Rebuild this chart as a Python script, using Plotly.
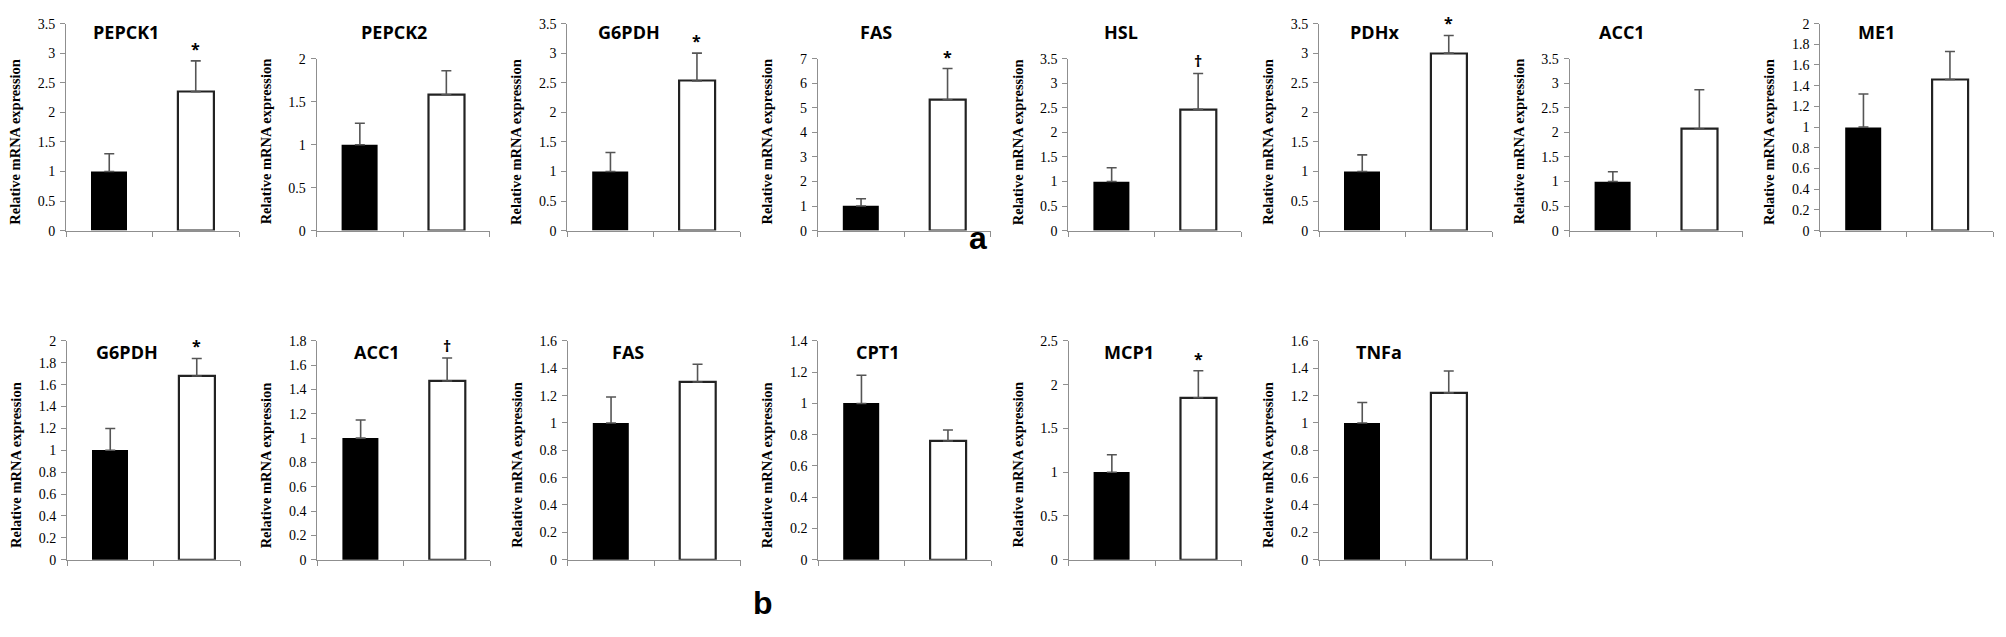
import plotly.graph_objects as go

# ---------------- data ----------------
genes_a = ["PEPCK1", "PEPCK2", "G6PDH", "FAS", "HSL", "PDHx", "ACC1", "ME1"]
ctrl_a = [1.0, 1.0, 1.0, 1.0, 1.0, 1.0, 1.0, 1.0]
ctrl_err_a = [0.30, 0.25, 0.32, 0.30, 0.28, 0.28, 0.20, 0.32]
treat_a = [2.35, 1.58, 2.53, 5.33, 2.47, 3.00, 2.07, 1.46]
treat_err_a = [0.52, 0.28, 0.47, 1.27, 0.73, 0.30, 0.80, 0.27]
sig_a = ["*", "", "*", "*", "†", "*", "", ""]
ymax_a = [3.5, 2.0, 3.5, 7.0, 3.5, 3.5, 3.5, 2.0]
dtick_a = [0.5, 0.5, 0.5, 1.0, 0.5, 0.5, 0.5, 0.2]

genes_b = ["G6PDH", "ACC1", "FAS", "CPT1", "MCP1", "TNFa"]
ctrl_b = [1.0, 1.0, 1.0, 1.0, 1.0, 1.0]
ctrl_err_b = [0.20, 0.15, 0.19, 0.18, 0.20, 0.15]
treat_b = [1.68, 1.47, 1.30, 0.76, 1.85, 1.22]
treat_err_b = [0.16, 0.19, 0.13, 0.07, 0.31, 0.16]
sig_b = ["*", "†", "", "", "*", ""]
ymax_b = [2.0, 1.8, 1.6, 1.4, 2.5, 1.6]
dtick_b = [0.2, 0.2, 0.2, 0.2, 0.5, 0.2]

y_title = "Relative mRNA expression"
panel_labels = ["a", "b"]

# ---------------- layout geometry (pixels) ----------------
W, H = 2006, 637
PW = 173  # plot-area width
ax_x_a = [66 + i * 250.6 for i in range(8)]
top_a = [17, 53, 17, 53, 53, 17, 53, 17]
bottom_a = 229
title_off_a = [60, 77, 62, 58, 53, 55, 52, 56]
ax_x_b = [67 + i * 250.4 for i in range(6)]
top_b = 342
bottom_b = 566
title_off_b = [60, 60, 60, 60, 60, 60]

AXIS_GRAY = "#8f8f8f"
ERR_GRAY = "#555555"

fig = go.Figure()
annotations = []

panels = []
for i in range(8):
    panels.append(dict(gene=genes_a[i], c=ctrl_a[i], ce=ctrl_err_a[i], t=treat_a[i],
                       te=treat_err_a[i], sig=sig_a[i], ymax=ymax_a[i], dt=dtick_a[i],
                       x0=ax_x_a[i], top=top_a[i], bot=bottom_a, toff=title_off_a[i],
                       title_y=26, ytitle_y=138))
for i in range(6):
    panels.append(dict(gene=genes_b[i], c=ctrl_b[i], ce=ctrl_err_b[i], t=treat_b[i],
                       te=treat_err_b[i], sig=sig_b[i], ymax=ymax_b[i], dt=dtick_b[i],
                       x0=ax_x_b[i], top=top_b, bot=bottom_b, toff=title_off_b[i],
                       title_y=353, ytitle_y=469))

layout_axes = {}
for k, p in enumerate(panels):
    n = k + 1
    xs = "" if n == 1 else str(n)
    fig.add_trace(go.Bar(
        x=[0, 1], y=[p["c"], p["t"]], width=0.42,
        marker=dict(color=["#000000", "#ffffff"],
                    line=dict(color=["#000000", "#222222"], width=[0, 2.2])),
        error_y=dict(type="data", array=[p["ce"], p["te"]], arrayminus=[0, 0],
                     symmetric=False, color=ERR_GRAY, thickness=1.6, width=5),
        xaxis="x" + xs, yaxis="y" + xs, showlegend=False, hoverinfo="skip",
    ))
    dx = [p["x0"] / W, (p["x0"] + PW) / W]
    dy = [1 - p["bot"] / H, 1 - p["top"] / H]
    layout_axes["xaxis" + xs] = dict(
        domain=dx, anchor="y" + xs, range=[-0.5, 1.5], showline=True,
        linecolor=AXIS_GRAY, linewidth=1, tickmode="array",
        tickvals=[-0.5, 0.5, 1.5], ticks="outside", ticklen=5,
        tickcolor=AXIS_GRAY, showticklabels=False, showgrid=False, zeroline=False,
        fixedrange=True)
    layout_axes["yaxis" + xs] = dict(
        domain=dy, anchor="x" + xs, range=[0, p["ymax"]], tick0=0, dtick=p["dt"],
        showline=True, linecolor=AXIS_GRAY, linewidth=1, ticks="outside",
        ticklen=5, tickcolor=AXIS_GRAY, showgrid=False, zeroline=False,
        tickfont=dict(family="Liberation Serif", size=14, color="#000000"),
        ticklabelstandoff=2, fixedrange=True)
    # panel gene title
    annotations.append(dict(
        text="<b>" + p["gene"] + "</b>", xref="paper", yref="paper",
        x=(p["x0"] + p["toff"]) / W, y=1 - p["title_y"] / H,
        xanchor="center", yanchor="middle", showarrow=False,
        font=dict(family="Open Sans", size=18, color="#000000")))
    # y axis title
    annotations.append(dict(
        text="<b>" + y_title + "</b>", xref="paper", yref="paper",
        x=(p["x0"] - 51) / W, y=1 - p["ytitle_y"] / H, textangle=-90,
        xanchor="center", yanchor="middle", showarrow=False,
        font=dict(family="Liberation Serif", size=14.5, color="#000000")))
    # significance mark
    if p["sig"]:
        annotations.append(dict(
            text="<b>" + p["sig"] + "</b>", xref="x" + xs, yref="y" + xs,
            x=1, y=p["t"] + p["te"], yshift=12, xanchor="center",
            yanchor="middle", showarrow=False,
            font=dict(family="Open Sans", size=16, color="#000000")))

# panel labels a / b
annotations.append(dict(text="<b>" + panel_labels[0] + "</b>", xref="paper", yref="paper",
                        x=978 / W, y=1 - 237 / H, xanchor="center", yanchor="middle",
                        showarrow=False,
                        font=dict(family="Liberation Sans", size=32, color="#000000")))
annotations.append(dict(text="<b>" + panel_labels[1] + "</b>", xref="paper", yref="paper",
                        x=763 / W, y=1 - 610 / H, xanchor="center", yanchor="middle",
                        showarrow=False,
                        font=dict(family="Liberation Sans", size=32, color="#000000")))

fig.update_layout(
    width=W, height=H, margin=dict(l=0, r=0, t=0, b=0),
    paper_bgcolor="#ffffff", plot_bgcolor="#ffffff",
    annotations=annotations, bargap=0, **layout_axes)

fig.write_html("out.html", config={"displayModeBar": False},
               post_script="document.body.style.margin='0';document.body.style.overflow='hidden';")
